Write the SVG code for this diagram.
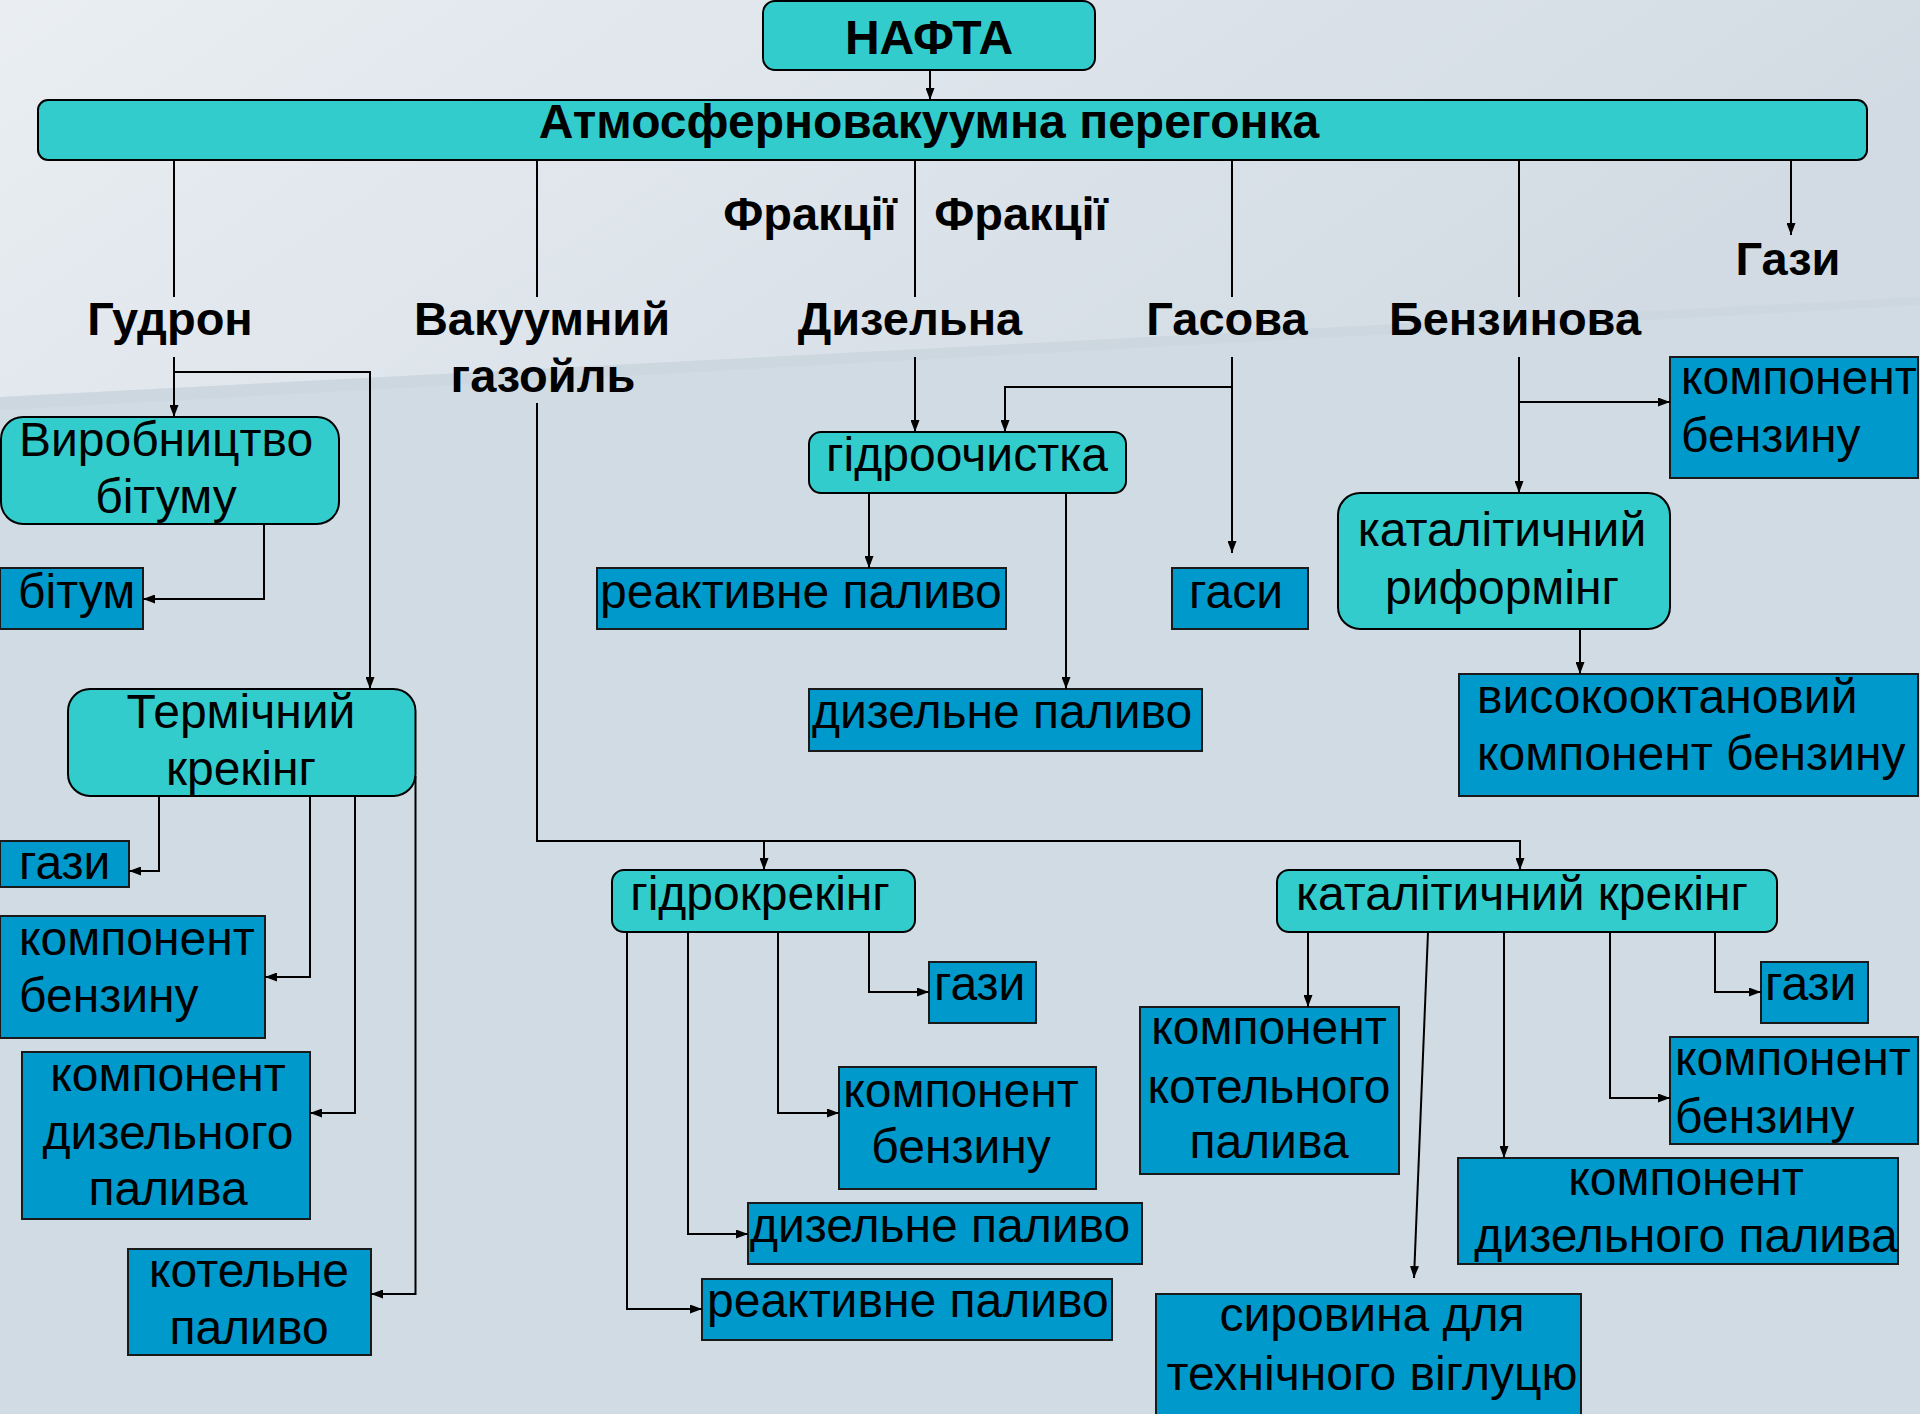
<svg xmlns="http://www.w3.org/2000/svg" width="1920" height="1414" viewBox="0 0 1920 1414">
<defs>
<linearGradient id="bgTop" x1="0" y1="0" x2="1" y2="0.3">
<stop offset="0" stop-color="#eaeef2"/>
<stop offset="0.55" stop-color="#dce3ea"/>
<stop offset="1" stop-color="#d2dbe3"/>
</linearGradient>
<marker id="ah" markerWidth="12" markerHeight="9" refX="12" refY="4.5" orient="auto" markerUnits="userSpaceOnUse">
<path d="M0,0 L12,4.5 L0,9 z" fill="#000"/>
</marker>
<style>
.proc{fill:#33cccc;stroke:#000;stroke-width:2}
.prod{fill:#0099cc;stroke:#1a1a1a;stroke-width:2}
.t{font-family:"Liberation Sans",Arial,sans-serif;font-size:48px;fill:#000}
.b{font-family:"Liberation Sans",Arial,sans-serif;font-size:47px;font-weight:bold;fill:#000}
.m{text-anchor:middle}
.c{fill:none;stroke:#000;stroke-width:2}
.a{marker-end:url(#ah)}
</style>
</defs>
<rect x="0" y="0" width="1920" height="1414" fill="#d1dbe3"/>
<polygon points="0,0 1920,0 1920,297 0,397" fill="url(#bgTop)"/>
<polygon points="0,397 1920,297 1920,305 0,410" fill="#c9d4dd" opacity="0.6"/>

<g id="n-nafta"><rect class="proc" x="763" y="1" width="332" height="69" rx="12"/><text class="b m" x="929" y="54" style="font-size:48px">НАФТА</text></g>
<g id="n-atm"><rect class="proc" x="38" y="100" width="1829" height="60" rx="10"/><text class="b m" x="929" y="138" style="font-size:48px">Атмосферновакуумна перегонка</text></g>

<g id="labels">
<text class="b m" x="810" y="230">Фракції</text>
<text class="b m" x="1021" y="230">Фракції</text>
<text class="b m" x="1788" y="275">Гази</text>
<text class="b m" x="170" y="335">Гудрон</text>
<text class="b m" x="542" y="335">Вакуумний</text>
<text class="b m" x="543" y="392">газойль</text>
<text class="b m" x="910" y="335">Дизельна</text>
<text class="b m" x="1227" y="335">Гасова</text>
<text class="b m" x="1515" y="335">Бензинова</text>
</g>

<g id="n-vyrobnytstvo"><rect class="proc" x="1" y="417" width="338" height="107" rx="22"/><text class="t m" x="166" y="456">Виробництво</text><text class="t m" x="166" y="513">бітуму</text></g>
<g id="n-bitum"><rect class="prod" x="0" y="568" width="143" height="61"/><text class="t" x="18" y="608">бітум</text></g>
<g id="n-termichnyi"><rect class="proc" x="68" y="689" width="347.5" height="107" rx="22"/><text class="t m" x="241" y="728">Термічний</text><text class="t m" x="241" y="785">крекінг</text></g>
<g id="n-gazy1"><rect class="prod" x="0" y="841" width="129" height="46"/><text class="t" x="19" y="879">гази</text></g>
<g id="n-benz1"><rect class="prod" x="0" y="916" width="265" height="122"/><text class="t" x="19" y="955">компонент</text><text class="t" x="19" y="1012">бензину</text></g>
<g id="n-dyz1"><rect class="prod" x="22" y="1052" width="288" height="167"/><text class="t m" x="168" y="1091">компонент</text><text class="t m" x="168" y="1149">дизельного</text><text class="t m" x="168" y="1205">палива</text></g>
<g id="n-kotelne"><rect class="prod" x="128" y="1249" width="243" height="106"/><text class="t m" x="249" y="1287">котельне</text><text class="t m" x="249" y="1344">паливо</text></g>

<g id="n-gidroochystka"><rect class="proc" x="809" y="432" width="317" height="61" rx="12"/><text class="t m" x="967" y="471">гідроочистка</text></g>
<g id="n-reakt1"><rect class="prod" x="597" y="568" width="409" height="61"/><text class="t" x="600" y="608">реактивне паливо</text></g>
<g id="n-dyzpal1"><rect class="prod" x="809" y="689" width="393" height="62"/><text class="t" x="812" y="728">дизельне паливо</text></g>
<g id="n-gasy"><rect class="prod" x="1172" y="568" width="136" height="61"/><text class="t m" x="1236" y="608">гаси</text></g>

<g id="n-benzTR"><rect class="prod" x="1670" y="357" width="248" height="121"/><text class="t" x="1681" y="394">компонент</text><text class="t" x="1681" y="452">бензину</text></g>
<g id="n-reforming"><rect class="proc" x="1338" y="493" width="332" height="136" rx="22"/><text class="t m" x="1502" y="546">каталітичний</text><text class="t m" x="1502" y="604">риформінг</text></g>
<g id="n-vysokooktan"><rect class="prod" x="1459" y="674" width="459" height="122"/><text class="t" x="1477" y="713">високооктановий</text><text class="t" x="1477" y="770">компонент бензину</text></g>

<g id="n-gidrokreking"><rect class="proc" x="612" y="870" width="303" height="62" rx="12"/><text class="t m" x="760" y="910">гідрокрекінг</text></g>
<g id="n-gazy2"><rect class="prod" x="929" y="962" width="107" height="61"/><text class="t" x="934" y="1000">гази</text></g>
<g id="n-benz2"><rect class="prod" x="839" y="1067" width="257" height="122"/><text class="t m" x="961" y="1107">компонент</text><text class="t m" x="961" y="1163">бензину</text></g>
<g id="n-dyzpal2"><rect class="prod" x="748" y="1203" width="394" height="61"/><text class="t" x="750" y="1242">дизельне паливо</text></g>
<g id="n-reakt2"><rect class="prod" x="702" y="1279" width="410" height="61"/><text class="t" x="707" y="1317">реактивне паливо</text></g>

<g id="n-katkreking"><rect class="proc" x="1277" y="870" width="500" height="62" rx="12"/><text class="t m" x="1522" y="910">каталітичний крекінг</text></g>
<g id="n-kotel2"><rect class="prod" x="1140" y="1007" width="259" height="167"/><text class="t m" x="1269" y="1044">компонент</text><text class="t m" x="1269" y="1103">котельного</text><text class="t m" x="1269" y="1158">палива</text></g>
<g id="n-gazy3"><rect class="prod" x="1761" y="962" width="107" height="61"/><text class="t" x="1765" y="1000">гази</text></g>
<g id="n-benz3"><rect class="prod" x="1670" y="1037" width="248" height="107"/><text class="t" x="1675" y="1075">компонент</text><text class="t" x="1675" y="1133">бензину</text></g>
<g id="n-dyz3"><rect class="prod" x="1458" y="1158" width="440" height="106"/><text class="t m" x="1686" y="1195">компонент</text><text class="t m" x="1686" y="1252">дизельного палива</text></g>
<g id="n-syrovyna"><rect class="prod" x="1156" y="1294" width="425" height="130"/><text class="t m" x="1372" y="1331">сировина для</text><text class="t m" x="1372" y="1390">технічного віглуцю</text></g>

<g id="connectors">
<path class="c a" d="M930,70 V100"/>
<path class="c" d="M174,160 V297"/>
<path class="c a" d="M174,357 V417"/>
<path class="c a" d="M174,372 H370 V689"/>
<path class="c" d="M537,160 V297"/>
<path class="c a" d="M537,403 V841 H1520 V870"/>
<path class="c a" d="M764,841 V870"/>
<path class="c" d="M915,160 V297"/>
<path class="c a" d="M915,357 V432"/>
<path class="c" d="M1232,160 V297"/>
<path class="c a" d="M1232,357 V553"/>
<path class="c a" d="M1232,387 H1005 V432"/>
<path class="c" d="M1519,160 V297"/>
<path class="c a" d="M1519,357 V493"/>
<path class="c a" d="M1519,402 H1670"/>
<path class="c a" d="M1791,160 V235"/>
<path class="c a" d="M264,524 V599 H143"/>
<path class="c a" d="M869,493 V568"/>
<path class="c a" d="M1066,493 V689"/>
<path class="c a" d="M1580,629 V674"/>
<path class="c a" d="M159,796 V871 H129"/>
<path class="c a" d="M310,796 V977 H265"/>
<path class="c a" d="M355,796 V1113 H310"/>
<path class="c a" d="M415.5,776 V1294 H371"/>
<path class="c a" d="M869,932 V992 H929"/>
<path class="c a" d="M778,932 V1113 H839"/>
<path class="c a" d="M688,932 V1234 H748"/>
<path class="c a" d="M627,932 V1309 H702"/>
<path class="c a" d="M1308,932 V1007"/>
<path class="c a" d="M1428,932 L1414,1278"/>
<path class="c a" d="M1504,932 V1158"/>
<path class="c a" d="M1610,932 V1098 H1670"/>
<path class="c a" d="M1715,932 V992 H1761"/>
</g>
</svg>
